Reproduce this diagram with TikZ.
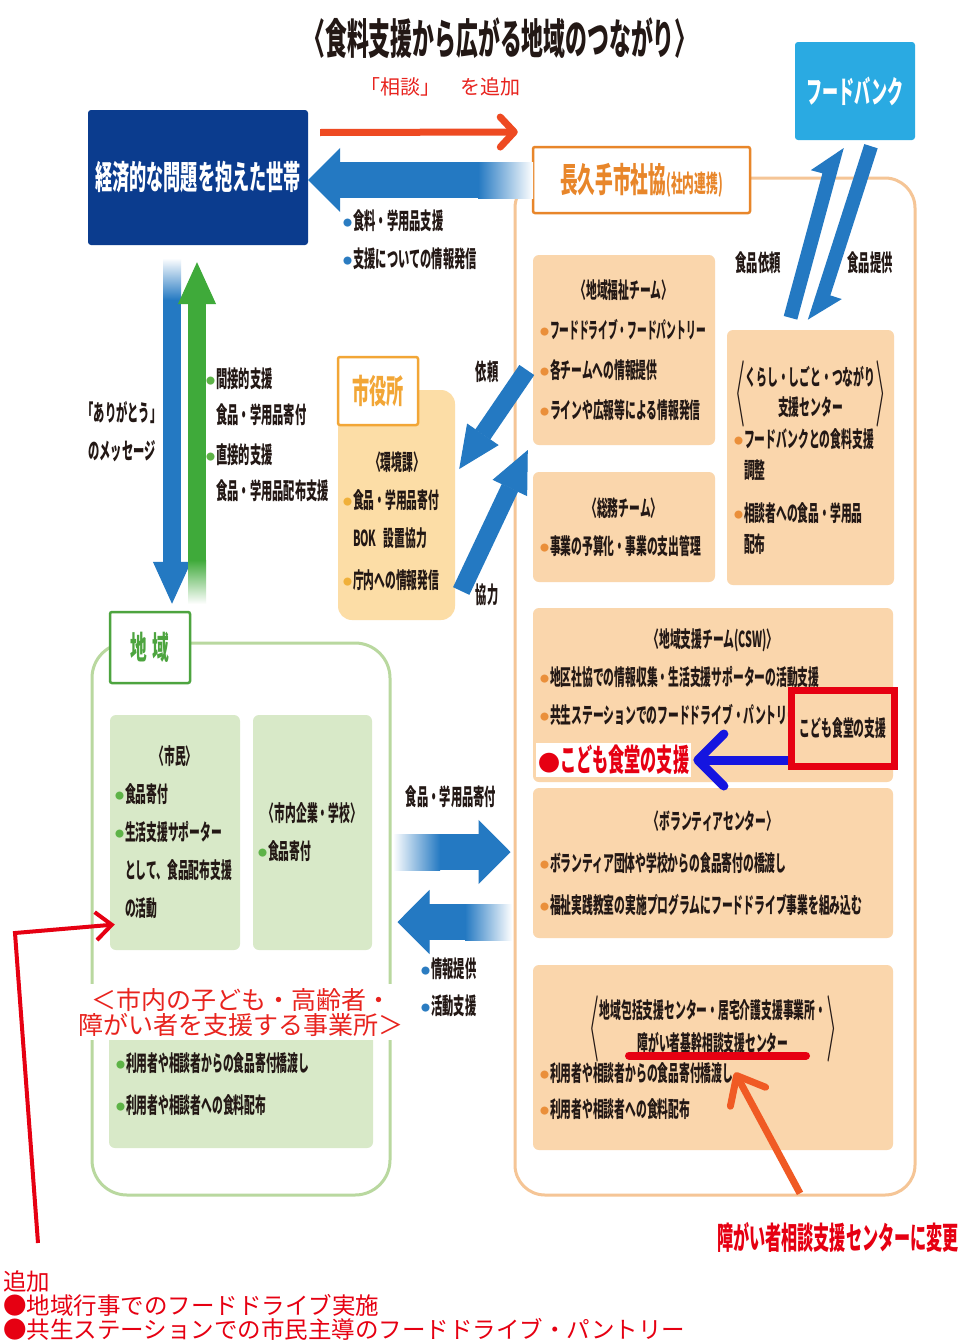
\documentclass[tikz,border=0pt]{standalone}
\usepackage{fontspec}
\setmainfont{Noto Sans CJK JP}
\newfontfamily\cjk{Noto Sans CJK JP}
\newfontfamily\cond[FakeStretch=0.49]{Noto Sans CJK JP}
\newfontfamily\narrow[FakeStretch=0.52]{Noto Sans CJK JP}
\usepackage{tikz}
\usetikzlibrary{
    arrows.meta,
    positioning,
    calc
}
\definecolor{navy}{HTML}{0B3C8E}
\definecolor{skyblue}{HTML}{2AAAE2}
\definecolor{flowblue}{HTML}{2479C2}
\definecolor{flowgreen}{HTML}{3FAA3A}
\definecolor{peach}{HTML}{FAD6AC}
\definecolor{cream}{HTML}{FCDDA6}
\definecolor{leaf}{HTML}{D8E9C8}
\definecolor{shakyoline}{HTML}{F5C596}
\definecolor{shakyoorange}{HTML}{E8862A}
\definecolor{cityorange}{HTML}{F2A636}
\definecolor{chiikiline}{HTML}{B9D89F}
\definecolor{chiikigreen}{HTML}{4DA43F}
\definecolor{notered}{HTML}{E8231E}
\definecolor{alertred}{HTML}{E60012}
\definecolor{consultred}{HTML}{EE4A22}
\definecolor{pureblue}{HTML}{1515E0}
\definecolor{changeorange}{HTML}{F05A24}
\definecolor{ink}{HTML}{231815}
\definecolor{dotblue}{HTML}{2B7CC1}
\definecolor{dotgreen}{HTML}{5DB347}
\definecolor{dotorange}{HTML}{EA8F3A}
\definecolor{dotyellow}{HTML}{F0B03A}
\newcommand\tbul[1]{\makebox[10pt][l]{\textcolor{#1}{\raisebox{3pt}{\cjk\fontsize{9}{9}\selectfont ●}}}}
\newcommand\tallangle[1]{$\vcenter{\hbox{\scalebox{1.4}[3.2]{$\langle$}}}\vcenter{\hbox{\begin{tabular}{@{}c@{}}#1\end{tabular}}}\vcenter{\hbox{\scalebox{1.4}[3.2]{$\rangle$}}}$}
\tikzset{
    teambox/.style={
        rectangle, fill=peach, rounded corners=6pt,
        inner xsep=7pt, inner ysep=3pt, align=left, text=ink,
        font=\cond\bfseries\fontsize{22}{40}\selectfont
    },
    leafbox/.style={
        teambox, fill=leaf
    },
    headbox/.style={
        rectangle, fill=white, draw=#1, line width=2.5pt,
        rounded corners=2pt, align=center, text=#1
    },
    group frame/.style={
        rectangle, draw=#1, line width=3pt
    },
    tag/.style={
        font=\cond\bfseries\fontsize{23}{38}\selectfont, text=ink,
        align=left, inner sep=1pt
    },
    wide flow/.style={
        line width=36pt, color=#1,
        -{Triangle[length=32pt, width=64pt, line width=1pt]}
    },
    wide flow/.default={flowblue},
    long flow/.style={
        line width=18pt, color=#1,
        -{Triangle[length=42pt, width=38pt, line width=1pt]}
    },
    long flow/.default={flowblue},
    consult flow/.style={
        line width=7pt, color=consultred,
        -{Straight Barb[length=14pt, width=30pt, round]}
    },
}
\begin{document}
\begin{tikzpicture}[x=1pt, y=-1pt]

    \fill[white] (0,0) rectangle (965,1344);
    \useasboundingbox (0,0) rectangle (965,1344);

    % Title
    \node[font=\narrow\bfseries\fontsize{42}{42}\selectfont, text=ink] (title) at (500,38) {〈食料支援から広がる地域のつながり〉};
    \node[font=\cjk\fontsize{20}{20}\selectfont, text=notered] (consult) at (440,87) {「相談」　を追加};

    % Households and food bank
    \node[rectangle, fill=navy, rounded corners=3pt, minimum width=220pt, minimum height=135pt,
          text=white, font=\narrow\bfseries\fontsize{33}{33}\selectfont] (household) at (198,177.5) {経済的な問題を抱えた世帯};
    \node[rectangle, fill=skyblue, rounded corners=3pt, minimum width=120pt, minimum height=98pt,
          text=white, font=\narrow\bfseries\fontsize{31}{31}\selectfont] (foodbank) at (855,91) {フードバンク};

    % Social welfare council
    \node[group frame=shakyoline, rounded corners=30pt, minimum width=400pt, minimum height=1017pt] (shakyo) at (715,686.5) {};
    \node[headbox=shakyoorange, minimum width=217pt, minimum height=66pt, font=\bfseries] (shakyohead) at (641.5,180)
        {{\narrow\fontsize{34}{34}\selectfont 長久手市社協}{\cond\fontsize{24}{24}\selectfont (社内連携)}};

    \node[teambox, minimum width=182pt, minimum height=190pt, text width=168pt] (fukushi) at (624,350)
        {{\centering 〈地域福祉チーム〉\par}\tbul{dotorange}\scalebox{0.9}[1]{フードドライブ・フードパントリー}\\\tbul{dotorange}各チームへの情報提供\\\tbul{dotorange}ラインや広報等による情報発信};
    \node[teambox, minimum width=182pt, minimum height=110pt, text width=168pt,
          font=\cond\bfseries\fontsize{22}{38}\selectfont] (somu) at (624,527)
        {{\centering 〈総務チーム〉\par}\tbul{dotorange}事業の予算化・事業の支出管理};
    \node[teambox, minimum width=165pt, minimum height=255pt, text width=153pt,
          font=\cond\bfseries\fontsize{22}{31}\selectfont] (kurashi) at (810.5,457.5)
        {{\centering\renewcommand\arraystretch{0.97}\tallangle{くらし・しごと・つながり\\支援センター}\par}\tbul{dotorange}フードバンクとの食料支援\\\hspace*{10pt}調整\\[12pt]\tbul{dotorange}相談者への食品・学用品\\\hspace*{10pt}配布};
    \node[teambox, minimum width=360pt, minimum height=174pt, text width=346pt,
          font=\cond\bfseries\fontsize{22}{38}\selectfont] (csw) at (713,695)
        {{\centering 〈地域支援チーム(CSW)〉\par}\tbul{dotorange}地区社協での情報収集・生活支援サポーターの活動支援\\\tbul{dotorange}共生ステーションでのフードドライブ・パントリー\\\mbox{}};
    \node[teambox, minimum width=360pt, minimum height=150pt, text width=346pt,
          font=\cond\bfseries\fontsize{22}{42}\selectfont] (volunteer) at (713,863)
        {{\centering 〈ボランティアセンター〉\par}\tbul{dotorange}ボランティア団体や学校からの食品寄付の橋渡し\\\tbul{dotorange}福祉実践教室の実施プログラムにフードドライブ事業を組み込む};
    \node[teambox, minimum width=360pt, minimum height=185pt, text width=346pt,
          font=\cond\bfseries\fontsize{22}{36}\selectfont] (houkatsu) at (713,1057.5)
        {{\centering\renewcommand\arraystretch{0.9}\tallangle{地域包括支援センター・居宅介護支援事業所・\\障がい者基幹相談支援センター}\par}\tbul{dotorange}利用者や相談者からの食品寄付橋渡し\\\tbul{dotorange}利用者や相談者への食料配布};

    % Children's cafeteria change
    \node[rectangle, draw=alertred, line width=7pt, fill=peach, minimum width=103pt, minimum height=76pt,
          text=ink, font=\cond\bfseries\fontsize{22}{22}\selectfont] (kodomo) at (843,728) {こども食堂の支援};
    \node[anchor=west, fill=white, inner sep=2pt, text=alertred,
          font=\narrow\bfseries\fontsize{31}{31}\selectfont] (kodomored) at (536,760)
        {{\cjk\fontsize{22}{22}\selectfont ●}こども食堂の支援};

    % City hall
    \node[rectangle, fill=cream, rounded corners=14pt, minimum width=117pt, minimum height=230pt] (cityhall) at (396.5,505) {};
    \node[headbox=cityorange, minimum width=80pt, minimum height=68pt,
          font=\narrow\bfseries\fontsize{33}{33}\selectfont] (cityhead) at (378,391) {市役所};
    \node[tag, text width=108pt, font=\cond\bfseries\fontsize{22}{38}\selectfont] (citytext) at (397,521)
        {{\centering 〈環境課〉\par}\tbul{dotyellow}食品・学用品寄付\\\hspace*{10pt}BOK 設置協力\\[4pt]\tbul{dotyellow}庁内への情報発信};

    % Community
    \node[group frame=chiikiline, rounded corners=35pt, minimum width=298pt, minimum height=552pt] (chiiki) at (241,919) {};
    \node[headbox=chiikigreen, minimum width=80pt, minimum height=71pt,
          font=\narrow\bfseries\fontsize{32}{32}\selectfont] (chiikihead) at (150,647.5) {地\hspace{5pt}域};
    \node[leafbox, minimum width=130pt, minimum height=235pt, text width=120pt, inner xsep=5pt,
          font=\cond\bfseries\fontsize{22}{38}\selectfont] (shimin) at (175,832.5)
        {{\centering 〈市民〉\par}\tbul{dotgreen}食品寄付\\\tbul{dotgreen}生活支援サポーター\\\hspace*{10pt}として、食品配布支援\\\hspace*{10pt}の活動};
    \node[leafbox, minimum width=119pt, minimum height=235pt, text width=109pt, inner xsep=5pt,
          font=\cond\bfseries\fontsize{22}{38}\selectfont] (kigyo) at (312.5,832.5)
        {{\centering 〈市内企業・学校〉\par}\tbul{dotgreen}食品寄付};
    \node[leafbox, minimum width=262pt, minimum height=128pt, text width=250pt,
          font=\cond\bfseries\fontsize{22}{42}\selectfont] (jigyosho) at (241,1084)
        {\tbul{dotgreen}利用者や相談者からの食品寄付橋渡し\\\tbul{dotgreen}利用者や相談者への食料配布};
    \node[fill=white, inner xsep=2pt, inner ysep=4pt, align=center, text=notered,
          font=\cjk\fontsize{25}{25}\selectfont] (jigyonote) at (241,1012)
        {＜市内の子ども・高齢者・\\障がい者を支援する事業所＞};

    % Labels
    \node[tag, anchor=west] (supporttag) at (342,240) {\tbul{dotblue}食料・学用品支援\\\tbul{dotblue}支援についての情報発信};
    \node[tag, align=center] (thanks) at (122,432) {「ありがとう」\\のメッセージ};
    \node[tag, anchor=west, font=\cond\bfseries\fontsize{23}{36}\selectfont] (helptag) at (205,435)
        {\tbul{dotgreen}間接的支援\\\hspace*{10pt}食品・学用品寄付\\[4pt]\tbul{dotgreen}直接的支援\\\hspace*{10pt}食品・学用品配布支援};
    \node[tag] (request) at (487,372) {依頼};
    \node[tag] (coop) at (487,595) {協力};
    \node[tag] (askfood) at (758,263) {食品依頼};
    \node[tag] (givefood) at (870,263) {食品提供};
    \node[tag] (donatelabel) at (451,797) {食品・学用品寄付};
    \node[tag, anchor=west, font=\cond\bfseries\fontsize{23}{37}\selectfont] (infotag) at (420,987)
        {\tbul{dotblue}情報提供\\\tbul{dotblue}活動支援};

    % Notes of change
    \node[text=alertred, font=\narrow\bfseries\fontsize{31}{31}\selectfont] (chgnote) at (838,1237) {障がい者相談支援センターに変更};
    \node[anchor=north west, inner sep=0pt, align=left, text=alertred,
          font=\cjk\fontsize{23.5}{24}\selectfont] (addnote) at (3,1270)
        {追加\\●地域行事でのフードドライブ実施\\●共生ステーションでの市民主導のフードドライブ・パントリー};

    % Flows
    \draw[consult flow] ($(household.east)+(12,-45)$) -- ($(shakyohead.west)+(-14,-48)$);
    \draw[wide flow] (shakyohead.west) -- (shakyohead.west -| household.east);
    \shade[left color=flowblue, right color=white] (478,162) rectangle (533,198);

    \draw[long flow] ($(household.south)+(-26,17)$) -- ($(chiikihead.north)+(22,-7)$);
    \shade[top color=white, bottom color=flowblue] (163,258) rectangle (181,300);
    \draw[long flow=flowgreen] ($(chiikihead.north)+(47,-10)$) -- ($(household.south)+(-1,17)$);
    \shade[top color=flowgreen, bottom color=white] (188,560) rectangle (206,604);

    \draw[long flow] ($(fukushi.west)+(-6,20)$) -- ($(cityhall.east)+(4,-36)$);
    \draw[long flow] ($(cityhall.east)+(6,86)$) -- ($(fukushi.west)+(-5,100)$);

    % Food bank harpoons
    \coordinate (askfoot) at ($(kurashi.north)+(-20,-12)$);
    \coordinate (asktip) at ($(foodbank.south)+(-18,6)$);
    \coordinate (askback) at ($(asktip)!30pt!(askfoot)$);
    \fill[flowblue] ($(askfoot)!7pt!-90:(asktip)$) -- ($(asktip)!7pt!90:(askfoot)$)
        -- ($(askback)!19pt!-90:(askfoot)$) -- ($(askback)!7pt!-90:(askfoot)$)
        -- ($(askfoot)!7pt!90:(asktip)$) -- cycle;
    \coordinate (givefoot) at ($(foodbank.south)+(16,6)$);
    \coordinate (givetip) at ($(kurashi.north)+(4,-8)$);
    \coordinate (giveback) at ($(givetip)!30pt!(givefoot)$);
    \fill[flowblue] ($(givefoot)!7pt!-90:(givetip)$) -- ($(givetip)!7pt!90:(givefoot)$)
        -- ($(giveback)!19pt!-90:(givefoot)$) -- ($(giveback)!7pt!-90:(givefoot)$)
        -- ($(givefoot)!7pt!90:(givetip)$) -- cycle;

    \draw[wide flow] ($(chiiki.east)+(5,-67)$) -- ($(shakyo.west)+(-3,165.5)$);
    \shade[left color=white, right color=flowblue] (393,834) rectangle (440,870);
    \draw[wide flow] ($(shakyo.west)+(-5,235.5)$) -- ($(chiiki.east)+(6,3)$);
    \shade[left color=flowblue, right color=white] (465,904) rectangle (512,940);

    % Edits
    \draw[line width=9pt, pureblue, -{Straight Barb[length=26pt, width=52pt, round]}]
        (kodomo.west |- kodomored.east) -- ([xshift=2pt]kodomored.east);
    \draw[line width=8pt, alertred, line cap=round] ($(houkatsu.center)+(-84,-2)$) -- ($(houkatsu.center)+(93,-2)$);
    \draw[line width=7pt, changeorange, -{Straight Barb[length=24pt, width=40pt, round]}]
        ($(chgnote.north)+(-38,-25)$) -- ($(houkatsu.center)+(22,15)$);
    \coordinate (addcorner) at (15,933);
    \draw[line width=4pt, alertred, -{Straight Barb[length=16pt, width=28pt]}]
        ($(addnote.north west)+(35,-27)$) -- (addcorner) -- ($(shimin.west)+(5,92)$);

\end{tikzpicture}
\end{document}
